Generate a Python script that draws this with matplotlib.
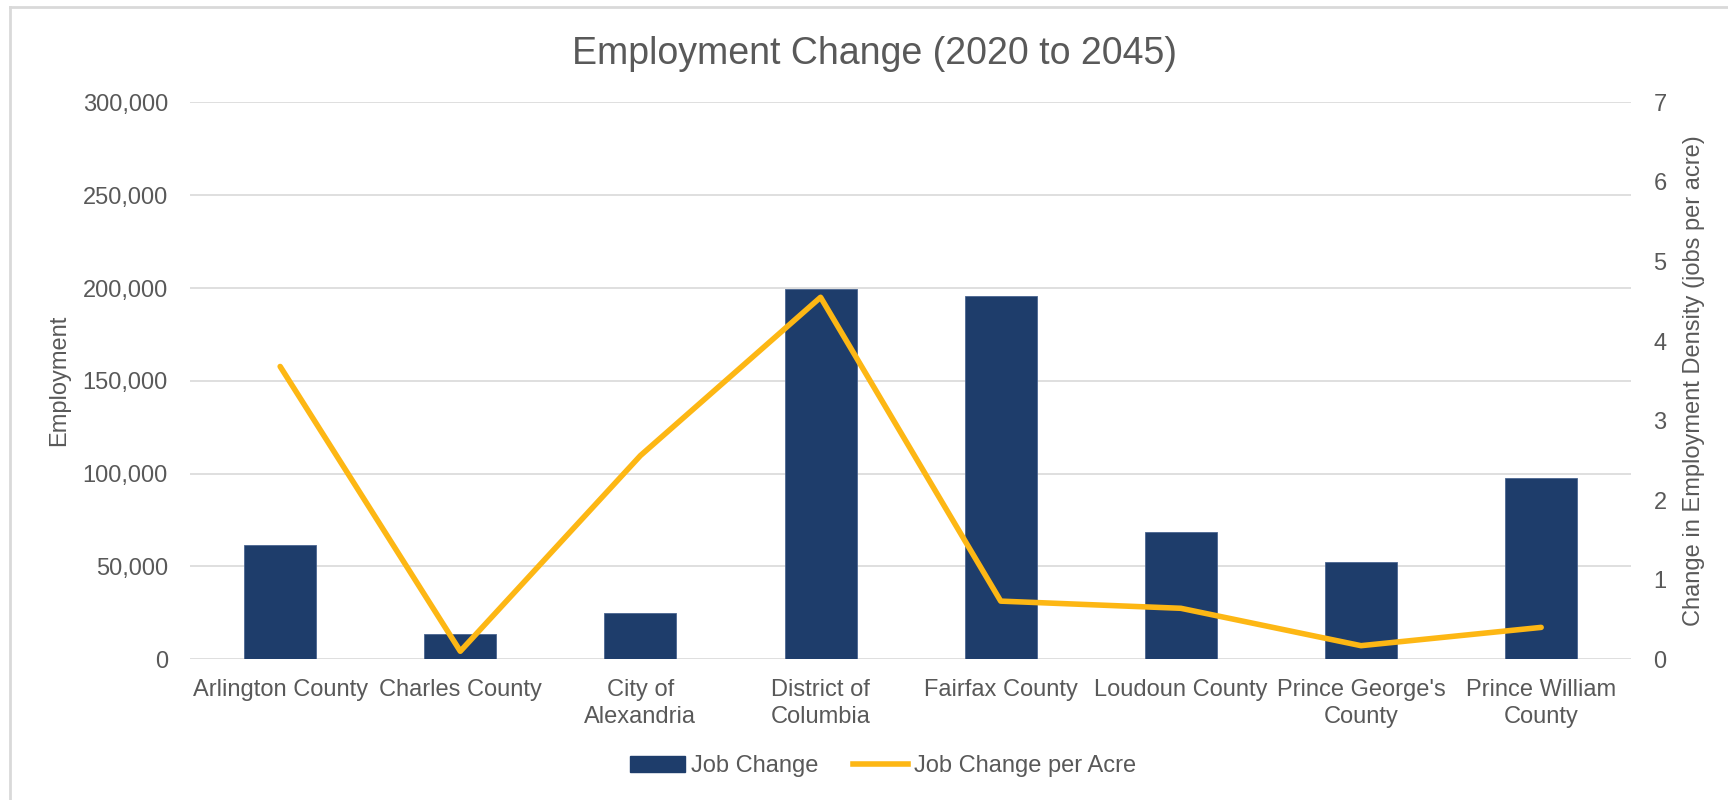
"""
Employment change 2020-2045 by jurisdiction: jobs (bars) and jobs per acre (line).
"""
import matplotlib
matplotlib.use('Agg')
import matplotlib.pyplot as plt
from matplotlib.lines import Line2D
from matplotlib.patches import Patch
from matplotlib.ticker import FuncFormatter


# Dados
jurisdicoes = [
    "Arlington County", "Charles County", "City of\nAlexandria", "District of\nColumbia",
    "Fairfax County", "Loudoun County", "Prince George's\nCounty", "Prince William\nCounty",
]
job_change = [61600, 13500, 24900, 199500, 195900, 68500, 52400, 97500]
job_change_per_acre = [3.68, 0.10, 2.56, 4.55, 0.73, 0.64, 0.17, 0.40]

# Estilo
COR_BARRA = '#1e3d6b'
COR_LINHA = '#fdb714'
COR_TEXTO = '#595959'
COR_GRADE = '#d9d9d9'
FONTE = ['Liberation Sans', 'DejaVu Sans']
TAM = 17

plt.rcParams['font.family'] = FONTE

fig = plt.figure(figsize=(17.28, 8), dpi=100)
ax = fig.add_axes([0.110, 0.176, 0.834, 0.696])
ax2 = ax.twinx()

x = range(len(jurisdicoes))
ax.bar(x, job_change, width=0.4, color=COR_BARRA, edgecolor='#4a6591', linewidth=0.6, zorder=3)
ax2.plot(x, job_change_per_acre, color=COR_LINHA, linewidth=4,
         solid_joinstyle='round', solid_capstyle='round', zorder=4)

ax.set_xlim(-0.5, len(jurisdicoes) - 0.5)
ax.set_ylim(0, 300000)
ax.set_yticks(range(0, 300001, 50000))
ax.yaxis.set_major_formatter(FuncFormatter(lambda v, p: f"{int(v):,}"))
ax2.set_ylim(0, 7)
ax2.set_yticks(range(0, 8))

ax.grid(axis='y', color=COR_GRADE, linewidth=1.2, zorder=0)
ax.set_axisbelow(True)

for a in (ax, ax2):
    for lado in a.spines.values():
        lado.set_visible(False)
    a.tick_params(length=0, labelsize=TAM, colors=COR_TEXTO)

ax.tick_params(axis='y', pad=16)
ax2.tick_params(axis='y', pad=16)
ax.tick_params(axis='x', pad=14)
ax.set_xticks(list(x))
ax.set_xticklabels(jurisdicoes, fontsize=TAM, color=COR_TEXTO, linespacing=1.32)

ax.set_ylabel("Employment", fontsize=TAM, color=COR_TEXTO, labelpad=9)
ax2.set_ylabel("Change in Employment Density (jobs per acre)", fontsize=TAM,
               color=COR_TEXTO, labelpad=12)

fig.text(0.506, 0.933, "Employment Change (2020 to 2045)", fontsize=27,
         color=COR_TEXTO, ha='center', va='center')

# Legenda embaixo
handles = [
    Patch(facecolor=COR_BARRA, edgecolor=COR_BARRA),
    Line2D([0], [0], color=COR_LINHA, linewidth=4),
]
leg = fig.legend(handles, ["Job Change", "Job Change per Acre"], loc='center',
                 bbox_to_anchor=(0.511, 0.042), ncol=2, frameon=False,
                 fontsize=TAM, handlelength=2.3, handletextpad=0.25,
                 columnspacing=1.5)
for t in leg.get_texts():
    t.set_color(COR_TEXTO)

# Moldura do gráfico
fig.add_artist(Line2D([10 / 1728, 10 / 1728], [0, 1 - 7 / 800], transform=fig.transFigure,
                      color=COR_GRADE, linewidth=2))
fig.add_artist(Line2D([10 / 1728, 1], [1 - 7 / 800, 1 - 7 / 800], transform=fig.transFigure,
                      color=COR_GRADE, linewidth=2))

fig.savefig('out.png', dpi=100, facecolor='white')
